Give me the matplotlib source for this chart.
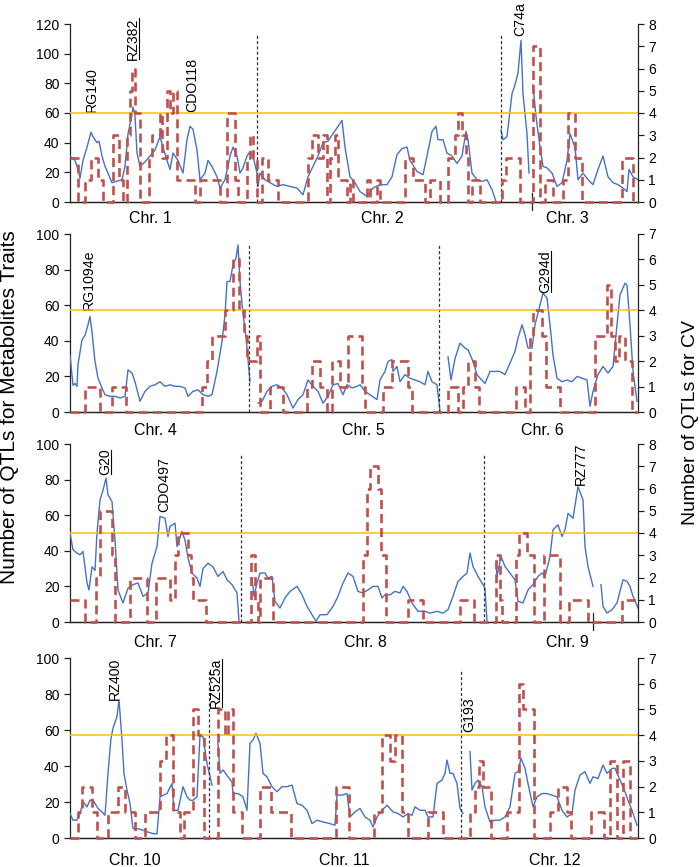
import numpy as np
import matplotlib
matplotlib.use('Agg')
import matplotlib.pyplot as plt
from matplotlib.lines import Line2D

plt.rcParams['font.family'] = ['Liberation Sans', 'DejaVu Sans']
plt.rcParams['lines.scale_dashes'] = False

NAN = np.nan

# ---------------- Panel 1 : Chr. 1-3 ----------------
p1_blue_x = [0,5,8,10,13,17,21,23,27,29,32,35,38,42,47,52,55,58,62,63,65,67,70,75,80,85,90,93,97,100,103,108,113,117,120,123,127,130,135,138,142,147,150,155,160,163,167,170,173,177,180,183,187,188,
             190,195,200,207,213,220,227,233,238,243,248,253,258,263,268,272,275,280,285,290,297,303,310,317,322,327,332,337,340,347,353,357,362,366,368,373,377,382,387,392,396,398,402,407,412,417,422,426,
             428,
             431,433,437,442,445,448,451,453,457,459,461,463,466,470,473,477,482,487,492,497,500,505,508,513,518,523,528,533,538,543,548,553,557,559,563,568]
p1_blue_y = [31,28,22,16,28,37,47,44,40,41,31,24,19.5,13,14,15,24,46,59,64,58,33,24,27,31,35,44,37,28,22,33,28,19.5,42,51,49,35,15,19.5,28,24,17,9.4,15,31,37,31,19.5,23,31,34,31,19.5,10.5,
             19.5,15,13,10.5,11.7,10.5,9.4,4.9,17,24,31,40,41,46,51,55,37,17,13,7,3.8,9.4,11.7,11.7,17,32,36,37,28,20.6,18.4,31,47.6,51,42,42,33,31,26,31,47.6,42,19.5,15,13.9,15,8.3,0.4,
             NAN,
             48.7,42,44,73,79,87,109,73,46,19.5,NAN,79,57.7,37,24,23,19.5,10.5,13,28,46,37,15,19.5,15,11.7,22,31,17,13,11.7,9.4,7,22,17,15]
p1_red_x = [0,8,15,21,28,33,43,49,53,57,60,62,65,70,79,82,90,92,97,100,103,107,117,122,125,130,142,150,157,165,168,177,180,183,187,192,198,203,208,238,242,248,253,257,260,265,268,277,280,283,297,300,307,310,335,343,355,360,370,378,385,388,392,396,398,402,410,432,436,445,450,463,470,475,483,493,498,505,512,552,563,568]
p1_red_y = [2,0,1,2,1,0,3,1,0,3,5,6,4,0,2,3,4,2,5,4,5,1,1,1,0,1,1,0,4,1,0,2,3,2,0,2,1,1,0,2,3,2,3,0,2,3,1,0,1,0,1,0,1,0,2,1,0,1,0,2,3,4,3,2,0,1,0,1,2,2,0,7,0,1,0,1,4,2,0,2,0,0]

# ---------------- Panel 2 : Chr. 4-6 ----------------
p2_blue_x = [0,3,5,7,8,12,15,18,20,22,25,28,32,35,40,45,50,55,58,62,65,70,75,80,85,90,95,100,105,110,115,118,123,128,133,138,142,147,152,155,157,160,163,166,168,170,173,175,177,180,
             184,
             188,192,197,202,207,212,217,223,228,233,238,243,248,253,258,263,268,273,277,282,287,290,295,300,307,310,315,318,322,323,327,330,335,340,345,350,355,358,362,367,370,
             374,
             378,381,385,390,395,398,403,407,410,415,420,425,430,435,440,445,448,452,455,458,462,465,470,473,477,480,483,487,492,497,502,507,512,517,520,523,528,533,538,543,547,550,555,557,560,563,567]
p2_blue_y = [32,15,16,14.4,26.6,40.6,43,49,53.7,45,28.4,19,13.5,9.7,8.8,8.8,7.9,8.8,23.7,21.9,17,6,11.6,14.4,15.3,17,14.4,15.3,14.4,14.4,13.5,8.8,11.6,12.5,9.7,8.8,9.7,22.8,39.6,54.6,73.3,73.3,82.7,86.4,93.9,73.3,54.6,47,36,17,
             NAN,
             5,6,11.6,14.4,15.3,13.5,9.7,2.2,7,9.7,18,14.4,11.6,5,8.8,15.3,16,9.7,15.3,13.5,14.4,15.3,11.6,9.7,7,18,22.8,28.4,29.4,22.8,25.6,17,21,19,18,17,15.3,22.8,17,15.3,0.4,
             NAN,
             31,18,30,38.7,35.9,35,28.4,21,19,16,22.8,22.8,22.8,21,27.5,34,41.5,49,43.4,35.9,35.9,49,60,66.8,64,49,32,19,17,18,17,20,19,18,3.2,11.6,21,25.6,21.9,25.6,49,65.8,72.4,71.4,49,22.8,6]
p2_red_x = [0,15,30,42,56,132,137,142,155,163,169,174,177,187,190,200,213,237,242,250,257,262,270,278,292,295,313,322,338,342,378,388,393,398,405,409,446,455,460,463,472,476,490,525,537,541,545,549,555,562,568]
p2_red_y = [0,1,0,1,0,1,2,3,4,6,4,3,2,3,0,1,0,1,2,1,0,2,1,3,1,0,1,2,1,0,1,0,1,2,1,0,1,0,3,4,3,1,0,3,5,3,2,3,2,0,0]

# ---------------- Panel 3 : Chr. 7-9 ----------------
p3_blue_x = [0,3,7,10,13,17,19,22,25,27,30,33,36,38,42,45,48,53,58,63,68,73,78,82,87,90,95,98,100,105,107,112,115,118,122,127,130,133,138,143,148,153,157,162,167,169,
             175,
             182,184,187,190,195,198,202,205,210,215,220,227,232,237,242,246,250,257,263,268,273,278,283,288,293,298,303,308,312,315,320,325,330,333,337,342,348,355,360,367,373,378,383,388,393,397,400,403,408,412,415,417,
             421,
             426,427,431,435,440,445,448,453,458,463,468,472,475,480,483,488,492,495,498,503,508,513,515,518,523,527,531,533,537,542,547,553,557,560,563,568]
p3_blue_y = [50,40.6,38.7,37.8,39.6,21.9,18,31,29,50,68.6,74,80.8,71.4,67.7,46,18,10.7,19,21,21.9,14.4,16.3,33,42.4,59.3,58.3,48,53.7,55.5,42.4,50.9,46,36,27.5,24.7,20,30,33,31,25.6,28.4,23.7,21,16.3,0.4,
             NAN,
             24.7,14.4,21.9,27.5,27.5,24.7,25.6,11.6,7.9,13.5,17.2,20,15.3,8.8,4.1,0.4,4.1,4.1,8.8,14.4,21.9,27.5,25.6,17.2,16.3,18,20,20,13.5,15.3,15.3,17.2,16.3,20,17.2,10.7,6,6,5,6,5,6.9,14.4,22.8,25.6,27.5,38.7,31.2,25.6,21.9,19,0.4,
             NAN,
             33,25.6,36.8,31.2,27.5,23.7,11.6,10.7,18,21,25.6,27.5,25.6,36.8,51.8,54.6,48,51.8,61,58.3,76,68.6,42.4,31.2,20,NAN,21,8.8,5,6.9,10.7,23.7,22.8,20,14.4,7.9]
p3_red_x = [0,15,26,30,42,45,60,77,86,97,100,105,108,118,121,123,136,181,185,188,190,203,293,297,300,308,311,316,338,353,390,404,426,430,432,446,449,457,464,474,490,499,518,552,568]
p3_red_y = [1,0,2,5,3,0,2,0,2,2,1,3,4,3,2,1,0,3,1,0,2,0,3,6,7,6,3,0,1,0,1,0,3,1,0,3,4,3,0,3,0,1,0,1,1]

# ---------------- Panel 4 : Chr. 10-12 ----------------
p4_blue_x = [0,3,7,10,13,17,20,23,28,32,35,38,41,43,47,49,52,54,57,60,63,68,73,78,83,87,90,97,102,104,108,113,117,120,123,127,130,133,137,142,
             145,
             148,150,153,158,162,163,168,173,177,180,183,186,190,193,197,202,207,212,217,222,227,232,237,242,247,253,260,265,267,272,277,280,285,290,295,300,303,307,312,317,320,323,328,333,338,342,345,350,355,358,363,367,372,375,377,380,383,387,390,393,
             396,
             400,402,405,408,412,415,420,425,430,435,440,445,448,451,455,458,463,467,472,477,482,487,492,497,502,505,510,515,520,523,528,533,537,542,545,550,555,558,562,567]
p4_blue_y = [13.6,9.9,9.9,13.6,20,17.3,21,21,16.4,14.5,12.6,35.9,55.4,61,67.5,76.8,54.5,35.9,26.6,19.2,5.2,5.2,4.3,3.3,2.4,2.4,22.9,24.7,30.3,15.4,15.4,28.5,22.9,21,21,22.9,57.3,56.4,41.5,29.4,
             NAN,
             52.6,35.9,37.8,34,31.2,24.7,24.7,22.9,15.4,52.6,54.5,58.2,52.6,35.9,34,28.5,25.7,28.5,28.5,29.4,19.2,18.2,15.4,8,9.9,8.9,8,7.1,23.8,23.8,24.7,11.7,14.5,16.4,11.7,9.9,6.1,11.7,15.4,18.2,16.4,14.5,13.6,11.7,13.6,12.6,17.3,15.4,15.4,11.7,11.7,30.3,32.2,35.9,43.3,35.9,35.9,30.3,16.4,13.6,
             NAN,
             48,26.6,30.3,32.2,28.5,17.3,8.9,9.9,9.9,11.7,17.3,35.9,36.8,44.3,38.7,30.3,17.3,22.9,24.7,24.7,23.8,22.9,15.4,11.7,13.6,26.6,35,36.8,30.3,34,33,40.5,35.9,38.7,38.7,32.2,25.7,21,15.4,7.1]
p4_red_x = [0,8,12,22,27,38,48,55,65,75,90,96,103,110,114,123,128,134,148,155,158,163,172,190,201,221,266,279,304,312,320,325,332,338,358,373,400,405,409,413,421,437,449,453,458,464,480,488,497,501,521,534,540,547,553,560,568]
p4_red_y = [0,1,2,1,0,1,2,1,0,1,3,4,1,0,1,5,4,0,5,4,5,1,0,2,1,0,2,0,1,4,3,4,1,0,1,0,1,2,3,2,0,1,6,5,5,0,1,2,1,0,1,0,3,0,3,0,0]

# ---------------- annotations ----------------
chr_names = [["Chr. 1", "Chr. 2", "Chr. 3"], ["Chr. 4", "Chr. 5", "Chr. 6"],
             ["Chr. 7", "Chr. 8", "Chr. 9"], ["Chr. 10", "Chr. 11", "Chr. 12"]]
chr_centers = [[80, 312, 497], [85, 293, 472], [85, 295, 497], [65, 274, 485]]
separators = [[187, 431], [179, 369], [171, 414], [139, 391]]
markers = [
    [("RG140", 22, 61, False), ("RZ382", 63, 96, True), ("CDO118", 122, 61, False), ("C74a", 450, 112, False)],
    [("RG1094e", 19, 57.5, False), ("G294d", 475, 67, True)],
    [("G20", 35, 82.5, True), ("CDO497", 94, 62, False), ("RZ777", 511, 77, False)],
    [("RZ400", 45, 76.5, False), ("RZ525a", 146, 72, True), ("G193", 399, 59, False)],
]
left_max = [120, 100, 100, 100]
right_max = [8, 7, 8, 7]
extra_ticks = [[462], [], [523], []]
threshold_cv = 4

blue_x = [p1_blue_x, p2_blue_x, p3_blue_x, p4_blue_x]
blue_y = [p1_blue_y, p2_blue_y, p3_blue_y, p4_blue_y]
red_x = [p1_red_x, p2_red_x, p3_red_x, p4_red_x]
red_y = [p1_red_y, p2_red_y, p3_red_y, p4_red_y]

BLUE = '#4472C4'
RED = '#C0504D'
ORANGE = '#FFC000'

fig = plt.figure(figsize=(7.0, 8.67), dpi=100)
W, H = 700, 867
panel_px = [(24, 202), (234, 412), (444, 622), (658, 838)]
label_off = [6.5, 8, 9.5, 11]

under_texts = []
for i in range(4):
    top, bot = panel_px[i]
    ax = fig.add_axes([70 / W, 1 - bot / H, 568 / W, (bot - top) / H])
    ax2 = ax.twinx()
    ax.set_xlim(0, 568)
    ax.set_ylim(0, left_max[i])
    ax2.set_ylim(0, right_max[i])
    ax.set_yticks(np.arange(0, left_max[i] + 1, 20))
    ax2.set_yticks(np.arange(0, right_max[i] + 1, 1))
    ax.set_xticks([])
    for a in (ax, ax2):
        a.spines['top'].set_visible(False)
        for s in a.spines.values():
            s.set_color('#222222')
            s.set_linewidth(0.9)
        a.tick_params(axis='y', direction='out', length=4, width=0.9, labelsize=10, colors='#222222', labelcolor='black')
    ax.spines['right'].set_visible(False)
    ax2.spines['left'].set_visible(False)

    ax.plot(blue_x[i], blue_y[i], color=BLUE, lw=1.0, zorder=3)
    ax2.plot(red_x[i], red_y[i], color=RED, lw=1.9, drawstyle='steps-post',
             dashes=(6.5, 3.6), zorder=4, clip_on=False)
    ax2.axhline(threshold_cv, color=ORANGE, lw=1.1, zorder=2)
    for s in separators[i]:
        ax.axvline(s, ymin=0, ymax=0.94, color='#333333', lw=0.9, dashes=(2.2, 1.6), zorder=5)
    for t in extra_ticks[i]:
        ax.axvline(t, ymin=-0.045, ymax=0.05, color='#222222', lw=0.9, clip_on=False)
    for name, c in zip(chr_names[i], chr_centers[i]):
        ax.annotate(name, xy=(c, 0), xycoords=('data', 'axes fraction'),
                    xytext=(0, -label_off[i]), textcoords='offset points',
                    ha='center', va='top', fontsize=11.5)
    for name, xp, yv, ul in markers[i]:
        t = ax.text(xp, yv, name, rotation=90, ha='center', va='bottom', fontsize=10.2,
                    clip_on=False, zorder=6)
        if ul:
            under_texts.append(t)

fig.text(0.014, 0.53, "Number of QTLs for Metabolites Traits", rotation=90,
         ha='center', va='center', fontsize=15)
fig.text(0.986, 0.513, "Number of QTLs for CV", rotation=90,
         ha='center', va='center', fontsize=14)

fig.canvas.draw()
r = fig.canvas.get_renderer()
inv = fig.transFigure.inverted()
for t in under_texts:
    bb = t.get_window_extent(renderer=r)
    (x0, y0), (x1, y1) = inv.transform([(bb.x1 - 1.5, bb.y0 + 1), (bb.x1 - 1.5, bb.y1 - 1)])
    fig.add_artist(Line2D([x0, x0], [y0, y1], transform=fig.transFigure, color='black', lw=0.8))

fig.savefig('out.png', dpi=100)
